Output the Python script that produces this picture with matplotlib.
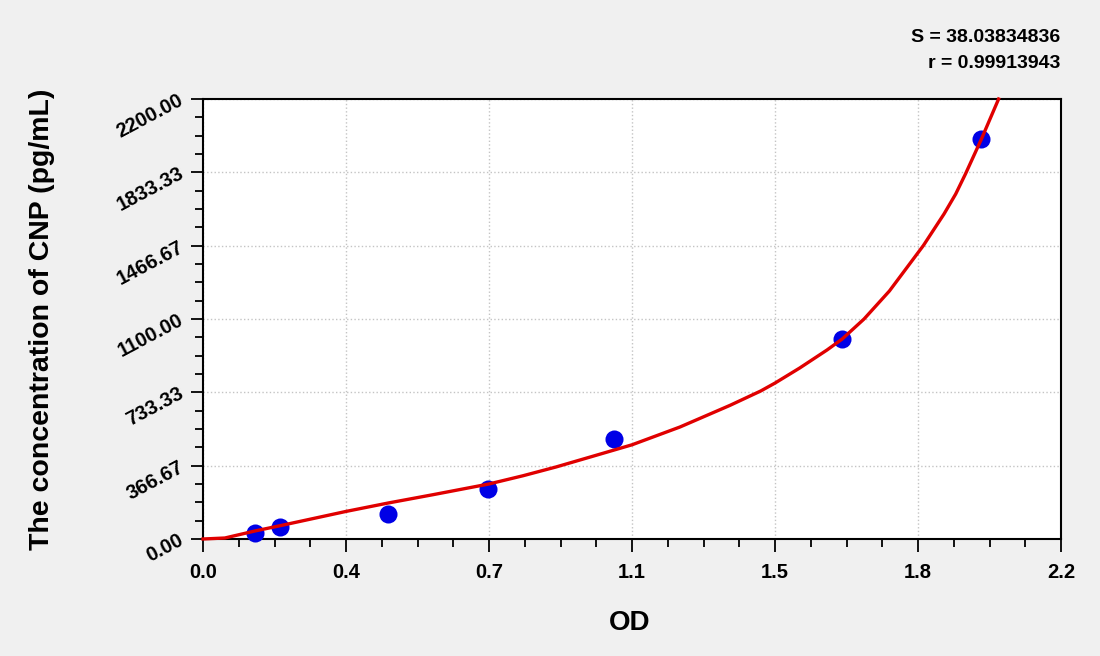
import numpy as np
import matplotlib
matplotlib.use('Agg')
import matplotlib.pyplot as plt
from matplotlib.ticker import FixedLocator, AutoMinorLocator

plt.rcParams['font.family'] = ['Liberation Sans', 'DejaVu Sans']
plt.rcParams['font.weight'] = 'bold'

# standard points (OD vs concentration)
od_points = [0.133, 0.197, 0.474, 0.731, 1.054, 1.638, 1.995]
conc_points = [31.25, 62.5, 125, 250, 500, 1000, 2000]

# fitted curve
curve_od = [0.000, 0.056, 0.133, 0.206, 0.367, 0.475, 0.591, 0.733, 0.820,
            0.905, 1.000, 1.100, 1.223, 1.351, 1.430, 1.467, 1.530, 1.600,
            1.639, 1.695, 1.760, 1.847, 1.900, 1.930, 1.955, 1.996, 2.040]
curve_conc = [0, 5, 40, 70, 138, 180, 222, 275, 316,
              360, 414, 471, 560, 668, 740, 780, 855, 945,
              1000, 1100, 1240, 1467, 1625, 1725, 1825, 2000, 2200]

x_ticks = [0.0, 2.2 / 6, 2.2 * 2 / 6, 1.1, 2.2 * 4 / 6, 2.2 * 5 / 6, 2.2]
y_ticks = [0.0, 366.67, 733.33, 1100.0, 1466.67, 1833.33, 2200.0]

S_value = '38.03834836'
r_value = '0.99913943'

fig = plt.figure(figsize=(11, 6.56), dpi=100, facecolor='#f0f0f0')
ax = fig.add_axes([203 / 1100, 117 / 656, 858 / 1100, 440 / 656])
ax.set_facecolor('white')

ax.plot(od_points, conc_points, 'o', color='#0000e6', markersize=13,
        markeredgewidth=0, zorder=3, clip_on=False)
ax.plot(curve_od, curve_conc, '-', color='#e00000', linewidth=2.4, zorder=4,
        clip_on=False, solid_joinstyle='round')

ax.set_xlim(0, 2.2)
ax.set_ylim(0, 2200)

ax.xaxis.set_major_locator(FixedLocator(x_ticks))
ax.yaxis.set_major_locator(FixedLocator(y_ticks))
ax.set_xticklabels([f'{v:.1f}' for v in x_ticks], fontsize=14.5, fontweight='bold')
ax.set_yticklabels([f'{v:.2f}' for v in y_ticks], fontsize=14.5, fontweight='bold',
                   rotation=28, ha='right', va='center', rotation_mode='anchor')
ax.xaxis.set_minor_locator(AutoMinorLocator(4))
ax.yaxis.set_minor_locator(AutoMinorLocator(4))

ax.tick_params(which='major', direction='out', length=9, width=1.3, color='black')
ax.tick_params(which='minor', direction='out', length=5.5, width=1.3, color='black')
ax.tick_params(axis='x', which='major', pad=8)
ax.tick_params(axis='y', which='major', pad=6)

ax.grid(True, which='major', linestyle=':', color='#c4c4c4', linewidth=1.0)
for sp in ax.spines.values():
    sp.set_linewidth(1.5)
    sp.set_color('black')

fig.text(42 / 1100, 1 - 319 / 656, 'The concentration of CNP (pg/mL)',
         rotation=90, ha='center', va='center', fontsize=20.5, fontweight='bold')
fig.text(630 / 1100, 1 - 623 / 656, 'OD', ha='center', va='center',
         fontsize=20, fontweight='bold')
fig.text(1060 / 1100, 1 - 37 / 656, f'S = {S_value}', ha='right', va='center',
         fontsize=14, fontweight='bold')
fig.text(1060 / 1100, 1 - 63 / 656, f'r = {r_value}', ha='right', va='center',
         fontsize=14, fontweight='bold')

fig.savefig('out.png', dpi=100, facecolor=fig.get_facecolor())
